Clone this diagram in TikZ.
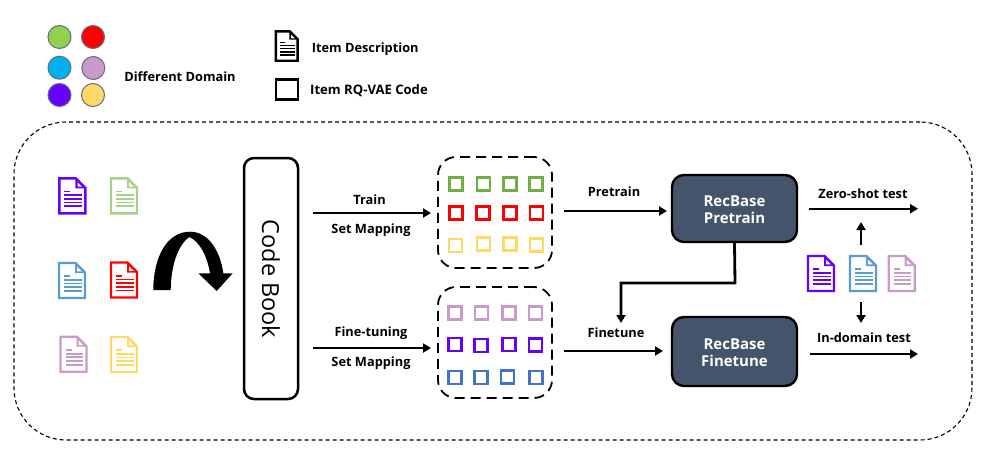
\documentclass[tikz,border=0pt]{standalone}
\usepackage{fontspec}
\setmainfont{Open Sans}
\usetikzlibrary{arrows.meta}
\definecolor{cpurple}{HTML}{6600FF}
\definecolor{cgreen}{HTML}{92D050}
\definecolor{cred}{HTML}{FF0000}
\definecolor{ccyan}{HTML}{00B0F0}
\definecolor{cmauve}{HTML}{C99BC9}
\definecolor{cyellow}{HTML}{FFD966}
\definecolor{dgreen}{HTML}{A9D18E}
\definecolor{dblue}{HTML}{5B9BD5}
\definecolor{sgreen}{HTML}{70AD47}
\definecolor{sblue}{HTML}{4472C4}
\definecolor{navy}{HTML}{44546A}
\tikzset{
  x=1pt,y=-1pt,
  lab/.style={font=\bfseries\fontsize{12.8}{14}\selectfont,inner sep=0pt,text=black},
  dom/.style={circle,draw=navy!85,line width=1pt,minimum size=23pt,inner sep=0pt},
  sq/.style={draw=#1,line width=2.6pt,minimum size=13pt,inner sep=0pt},
  grid/.style={draw=black,line width=1.8pt,rounded corners=18pt,dash pattern=on 10pt off 6pt,minimum width=114pt,minimum height=111pt,inner sep=0pt},
  rb/.style={draw=black,line width=2.4pt,fill=navy,rounded corners=12pt,minimum width=125pt,text=white,inner sep=0pt,align=center,font=\bfseries\fontsize{15}{17.5}\selectfont},
  arr/.style={line width=2.2pt,-{Triangle[length=8pt,width=9pt]}},
  docicon/.pic={
    \draw[#1,line width=2.4pt,line join=miter] (1,1)--(17.5,1)--(27,10.5)--(27,36)--(1,36)--cycle;
    \fill[#1] (17,1)--(27.5,11)--(17,11)--cycle;
    \fill[white] (19.2,5)--(23.8,9.4)--(19.2,9.4)--cycle;
    \draw[#1,line width=1.7pt] (6,14.3)--(12,14.3) (6,18)--(23.5,18) (6,21.6)--(23.5,21.6) (6,25.2)--(23.5,25.2) (6,29)--(23.5,29);
  }
}
\begin{document}
\begin{tikzpicture}
\useasboundingbox (0,0) rectangle (996,463);
% legend
\node[dom,fill=cgreen] (d1) at (59.5,37) {};
\node[dom,fill=cred] (d2) at (93,37) {};
\node[dom,fill=ccyan] (d3) at (59.5,67.7) {};
\node[dom,fill=cmauve] (d4) at (93.3,68) {};
\node[dom,fill=cpurple] (d5) at (59.5,95) {};
\node[dom,fill=cyellow] (d6) at (93,95) {};
\node[lab] (ddom) at (180,77) {Different Domain};
\pic[scale=0.84,transform shape] at (275,30.5) {docicon=black};
\node[lab,anchor=west] (idesc) at (311.6,49) {Item Description};
\node[draw=black,line width=2.5pt,minimum width=22pt,minimum height=20pt,inner sep=0pt] (isq) at (287,89.5) {};
\node[lab,anchor=west,font=\bfseries\fontsize{13.1}{14}\selectfont] (icode) at (310,90.5) {Item RQ-VAE Code};
% outer
\node[draw=black,line width=1.1pt,dash pattern=on 4pt off 3pt,rounded corners=52pt,minimum width=958pt,minimum height=318pt,inner sep=0pt] (outer) at (493,281) {};
% documents
\pic at (58.3,177.3) {docicon=cpurple};
\pic at (110,177.3) {docicon=dgreen};
\pic at (58,262) {docicon=dblue};
\pic at (110,261.5) {docicon=cred};
\pic at (59.5,335.7) {docicon=cmauve};
\pic at (110,336) {docicon=cyellow};
\pic at (807,255) {docicon=cpurple};
\pic at (849,255) {docicon=dblue};
\pic at (887.7,255) {docicon=cmauve};
% curved arrow
\fill[black] (153.3,290) .. controls (153.5,255) and (168,231.7) .. (190,231.7)
  .. controls (208,231.7) and (220,250) .. (223.3,273.3) -- (232.7,273.3) -- (216.7,291) -- (198.3,273.3) -- (210,273.3)
  .. controls (207,255) and (199,241) .. (189.3,237)
  .. controls (180,243) and (171,262) .. (170.7,290) -- cycle;
% code book
\node[draw=black,line width=2.5pt,rounded corners=10pt,minimum width=54pt,minimum height=241pt,inner sep=0pt] (cb) at (271,278.5) {};
\node[rotate=-90,font=\fontsize{23.5}{26}\selectfont,inner sep=0pt] (cbt) at (271,279) {Code Book};
% grids
\node[grid] (g1) at (495,212.5) {};
\node[grid] (g2) at (495,342.5) {};
\foreach \x/\y [count=\i] in {455.7/183.7,483.3/183.7,509.7/183.7,535.7/183.7}{\node[sq=sgreen] (a\i) at (\x,\y) {};}
\foreach \x/\y [count=\i] in {456/213,483/213,509.7/213,536.3/213}{\node[sq=cred] (b\i) at (\x,\y) {};}
\foreach \x/\y [count=\i] in {455.3/245.3,483.3/244,509.7/244,536.3/244.7}{\node[sq=cyellow] (c\i) at (\x,\y) {};}
\foreach \x/\y [count=\i] in {455/313,481.3/313,509/313,535.3/313}{\node[sq=cmauve] (e\i) at (\x,\y) {};}
\foreach \x/\y [count=\i] in {455/344.3,481/345.3,508.7/344.3,535.3/345}{\node[sq=cpurple] (f\i) at (\x,\y) {};}
\foreach \x/\y [count=\i] in {454.7/377.3,481/377.3,507.3/376.7,535.7/377.3}{\node[sq=sblue] (h\i) at (\x,\y) {};}
% RecBase
\node[rb,minimum height=67pt] (pre) at (734.5,208.5) {};
\node[rb,minimum height=69pt] (fin) at (734.5,351.5) {};
\node[rb,draw=none,fill=none,minimum height=0pt,minimum width=0pt] (pret) at (734.5,209.5) {RecBase\\Pretrain};
\node[rb,draw=none,fill=none,minimum height=0pt,minimum width=0pt] (fint) at (734.5,352.5) {RecBase\\Finetune};
% free ends
\coordinate (t0) at (313,213);
\coordinate (t1) at (431,213);
\coordinate (f0) at (313,348);
\coordinate (f1) at (431,348);
\coordinate (p0) at (564,211);
\coordinate (p1) at (667,211);
\coordinate (n0) at (564,351);
\coordinate (n1) at (663,351);
\coordinate (z0) at (809,208.7);
\coordinate (z1) at (918,208.7);
\coordinate (i0) at (810,354);
\coordinate (i1) at (918,354);
\coordinate (u0) at (861,244.7);
\coordinate (u1) at (861,222);
\coordinate (v0) at (861,301.7);
\coordinate (v1) at (861,323);
\coordinate (e1c) at (735,283);
\coordinate (e2c) at (621,283);
\coordinate (e3c) at (621,323);
\draw[arr] (t0)--(t1);
\draw[arr] (f0)--(f1);
\draw[arr] (p0)--(p1);
\draw[arr] (n0)--(n1);
\draw[arr] (z0)--(z1);
\draw[arr] (i0)--(i1);
\draw[arr] (u0)--(u1);
\draw[arr] (v0)--(v1);
\draw[arr,line width=2.8pt] (pre.south)--(e1c)--(e2c)--(e3c);
% labels
\node[lab] (l1) at (369.5,199.8) {Train};
\node[lab] (l2) at (371,230) {Set Mapping};
\node[lab] (l3) at (371,333.3) {Fine-tuning};
\node[lab] (l4) at (371,363.5) {Set Mapping};
\node[lab] (l5) at (614,191.8) {Pretrain};
\node[lab] (l6) at (616,332.8) {Finetune};
\node[lab] (l7) at (863,193.8) {Zero-shot test};
\node[lab] (l8) at (864,337.8) {In-domain test};
\end{tikzpicture}
\end{document}
